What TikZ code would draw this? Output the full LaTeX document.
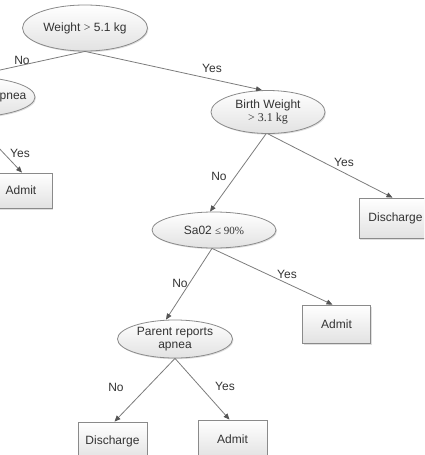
\documentclass[tikz,border=0pt]{standalone}
\usepackage{fontspec}
\setmainfont{Liberation Sans}
\newfontfamily\serifpart{Liberation Serif}
\usetikzlibrary{shapes.geometric,arrows.meta,shadows}
\definecolor{edgegray}{HTML}{8A8A8A}
\definecolor{linegray}{HTML}{7C7C7C}
\definecolor{tipgray}{HTML}{555555}
\definecolor{txtgray}{HTML}{333333}
\definecolor{fillbot}{HTML}{E2E2E2}
\tikzset{
  decision/.style={ellipse, draw=edgegray, line width=0.8pt, inner sep=0pt,
    top color=white, bottom color=fillbot, text=txtgray, align=center,
    font=\fontsize{12}{13}\selectfont,
    drop shadow={shadow xshift=1pt, shadow yshift=-1.2pt, opacity=0.25}},
  leaf/.style={rectangle, draw=edgegray, line width=0.8pt, inner sep=0pt,
    minimum width=68pt, minimum height=38pt,
    top color=white, bottom color=fillbot, text=txtgray,
    font=\fontsize{12}{13}\selectfont,
    drop shadow={shadow xshift=1.2pt, shadow yshift=-1.5pt, opacity=0.25}},
  lbl/.style={text=txtgray, inner sep=0pt, font=\fontsize{12}{13}\selectfont},
  conn/.style={draw=linegray, line width=0.8pt,
    -{Triangle[length=6pt,width=5pt,fill=tipgray,color=tipgray]}},
}
\begin{document}
\begin{tikzpicture}[x=1pt,y=-1pt]
\useasboundingbox (0,0) rectangle (424,455);
\clip (0,0) rectangle (424,455);
% decision nodes
\node[decision, minimum width=125pt, minimum height=46pt] (root) at (85,28)
  {Weight {\serifpart >} 5.1 kg};
\node[decision, minimum width=130pt, minimum height=40pt] (apn) at (-30,97)
  {\makebox[0pt]{Parent reports apnea}};
\node[decision, minimum width=114pt, minimum height=43pt] (bw) at (268,112)
  {Birth Weight\\{\serifpart > 3.1 kg}};
\node[decision, minimum width=124pt, minimum height=36pt] (sa) at (214,230)
  {Sa02 {\serifpart\fontsize{11}{13}\selectfont ≤ 90\%}};
\node[decision, minimum width=115pt, minimum height=38pt] (par) at (175,339)
  {Parent reports\\apnea};
% leaves
\node[leaf, minimum height=35pt] (adm0) at (18,190.5) {\makebox[0pt]{\hspace*{6pt}Admit}};
\node[leaf, minimum width=67pt, minimum height=40pt] (dis1) at (392.5,218) {\makebox[0pt]{\hspace*{6pt}Discharge}};
\node[leaf] (adm1) at (336.5,324) {Admit};
\node[leaf, minimum width=69pt] (dis2) at (112.5,441) {Discharge};
\node[leaf, minimum width=69pt] (adm2) at (232.5,439) {Admit};
% connectors
\draw[conn] (root.south) -- (apn.north);
\draw[conn] (root.south) -- ([xshift=-6pt]bw.north);
\draw[conn] (apn.south) -- ([xshift=4pt]adm0.north);
\draw[conn] ([xshift=-2pt]bw.south) -- ([xshift=-4pt]sa.north);
\draw[conn] (bw.south) -- (dis1.north);
\draw[conn] ([xshift=-2pt]sa.south) -- ([xshift=-9pt]par.north);
\draw[conn] ([xshift=-2pt]sa.south) -- ([xshift=-4pt]adm1.north);
\draw[conn] (par.south) -- ([xshift=2pt]dis2.north);
\draw[conn] (par.south) -- ([xshift=-3pt]adm2.north);
% labels
\node[lbl] (l1) at (22,60) {No};
\node[lbl] (l2) at (212,68) {Yes};
\node[lbl] (l3) at (20,153) {Yes};
\node[lbl] (l4) at (219,176) {No};
\node[lbl] (l5) at (344,162) {Yes};
\node[lbl] (l6) at (180,283) {No};
\node[lbl] (l7) at (287,274) {Yes};
\node[lbl] (l8) at (116,387) {No};
\node[lbl] (l9) at (225,386) {Yes};
\end{tikzpicture}
\end{document}
